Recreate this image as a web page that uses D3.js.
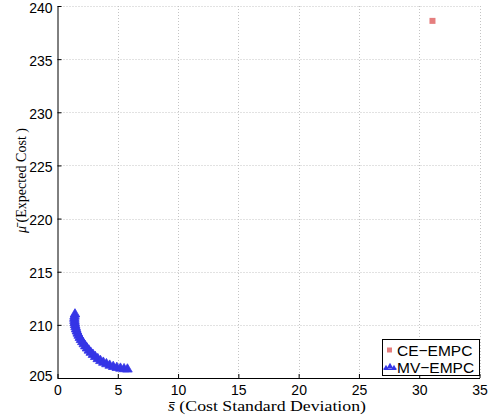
<!DOCTYPE html>
<html>
<head>
<meta charset="utf-8">
<script src="https://cdn.jsdelivr.net/npm/d3@7"></script>
<style>
  html, body { margin: 0; padding: 0; background: #fff; }
  svg { display: block; }
</style>
</head>
<body>
<svg id="chart" width="496" height="417"></svg>
<script>
// Single CE-EMPC operating point (std dev, expected cost)
const ceS = [31.1];
const ceMu = [238.6];

// MV-EMPC trade-off curve (std dev, expected cost)
const mvS = [1.45, 1.41, 1.40, 1.41, 1.43, 1.46, 1.50, 1.55, 1.61, 1.68, 1.76, 1.85,
             1.95, 2.06, 2.18, 2.31, 2.45, 2.60, 2.76, 2.94, 3.13, 3.34, 3.56, 3.80,
             4.06, 4.33, 4.62, 4.92, 5.22, 5.52, 5.80];
const mvMu = [211.0, 210.8, 210.6, 210.4, 210.2, 210.0, 209.8, 209.6, 209.4, 209.2, 209.0, 208.8,
              208.6, 208.4, 208.2, 208.0, 207.8, 207.6, 207.4, 207.2, 207.0, 206.8, 206.62, 206.46,
              206.32, 206.18, 206.06, 205.97, 205.9, 205.85, 205.82];

const xTicks = [0, 5, 10, 15, 20, 25, 30, 35];
const yTicks = [205, 210, 215, 220, 225, 230, 235, 240];

const svg = d3.select("#chart");
const plotLeft = 57.5, plotRight = 479.5, plotTop = 6, plotBottom = 378;

const x = d3.scaleLinear().domain([0, 35]).range([plotLeft, plotRight]);
const y = d3.scaleLinear().domain([205, 240]).range([plotBottom, plotTop]);

// dotted grid
const grid = svg.append("g").attr("stroke", "#c4c4c4").attr("stroke-width", 1)
  .attr("stroke-dasharray", "1,2");
grid.selectAll("line.gx").data(xTicks.slice(1)).join("line")
  .attr("x1", d => Math.round(x(d)) + 0.5).attr("x2", d => Math.round(x(d)) + 0.5)
  .attr("y1", plotTop).attr("y2", plotBottom);
grid.selectAll("line.gy").data(yTicks.slice(1)).join("line")
  .attr("y1", d => Math.round(y(d)) + 0.5).attr("y2", d => Math.round(y(d)) + 0.5)
  .attr("x1", plotLeft).attr("x2", plotRight);

// axes (ticks pointing inward)
const xAxis = d3.axisBottom(x).tickValues(xTicks).tickSizeInner(-4).tickSizeOuter(0).tickPadding(8);
const yAxis = d3.axisLeft(y).tickValues(yTicks).tickSizeInner(-4).tickSizeOuter(0).tickPadding(5);

const gx = svg.append("g").attr("transform", `translate(0,${plotBottom})`).call(xAxis);
const gy = svg.append("g").attr("transform", `translate(${plotLeft},0)`).call(yAxis);
[gx, gy].forEach(g => {
  g.select(".domain").attr("stroke", "#000").attr("stroke-width", 1);
  g.selectAll(".tick line").attr("stroke", "#000");
  g.selectAll(".tick text").attr("fill", "#000")
    .style("font-family", "'Liberation Sans', Arial, sans-serif").style("font-size", "14px");
});
// lowest y label is nudged up to clear the x-axis "0"
gy.selectAll(".tick text").attr("dy", d => d === 205 ? "2.6px" : "6px");
gx.selectAll(".tick text").attr("dy", "0.62em");

// MV-EMPC triangles
const tri = d3.symbol().type(d3.symbolTriangle).size(40);
svg.append("g").selectAll("path").data(mvS.map((s, i) => [s, mvMu[i]])).join("path")
  .attr("d", tri)
  .attr("transform", d => `translate(${x(d[0])},${y(d[1])})`)
  .attr("fill", "#3535e6").attr("stroke", "#3535e6").attr("stroke-width", 0.8);

// CE-EMPC square
svg.append("g").selectAll("rect").data(ceS.map((s, i) => [s, ceMu[i]])).join("rect")
  .attr("x", d => x(d[0]) - 3).attr("y", d => y(d[1]) - 3)
  .attr("width", 6).attr("height", 6)
  .attr("fill", "#e57e7e");

// axis titles
svg.append("text")
  .attr("x", 168).attr("y", 411)
  .attr("textLength", 198).attr("lengthAdjust", "spacingAndGlyphs")
  .style("font-family", "'Liberation Serif', 'Times New Roman', serif").style("font-size", "15px")
  .html('<tspan font-style="italic">s̄</tspan> (Cost Standard Deviation)');

svg.append("text")
  .attr("transform", "translate(26,233) rotate(-90)")
  .attr("textLength", 105).attr("lengthAdjust", "spacingAndGlyphs")
  .style("font-family", "'Liberation Serif', 'Times New Roman', serif").style("font-size", "14px")
  .html('<tspan font-style="italic">μ̄</tspan> (Expected Cost )');

// legend
const lg = svg.append("g");
lg.append("rect").attr("x", 382.5).attr("y", 339.5).attr("width", 97).attr("height", 36)
  .attr("fill", "#fff").attr("stroke", "#000").attr("stroke-width", 1);
lg.append("rect").attr("x", 387).attr("y", 347.5).attr("width", 5).attr("height", 5).attr("fill", "#e57e7e");
[386, 390, 394].forEach((cx, i) => {
  lg.append("path").attr("d", d3.symbol().type(d3.symbolTriangle).size(i === 1 ? 18 : 10))
    .attr("transform", `translate(${cx},${i === 1 ? 366.5 : 367.5})`)
    .attr("fill", "#3535e6");
});
lg.append("rect").attr("x", 383.5).attr("y", 368.5).attr("width", 13).attr("height", 1.5).attr("fill", "#3535e6");
const legText = ["CE−EMPC", "MV−EMPC"];
lg.selectAll("text").data(legText).join("text")
  .attr("x", 397).attr("y", (d, i) => 356 + i * 17)
  .style("font-family", "'Liberation Sans', Arial, sans-serif").style("font-size", "15.5px")
  .text(d => d);
</script>
</body>
</html>
